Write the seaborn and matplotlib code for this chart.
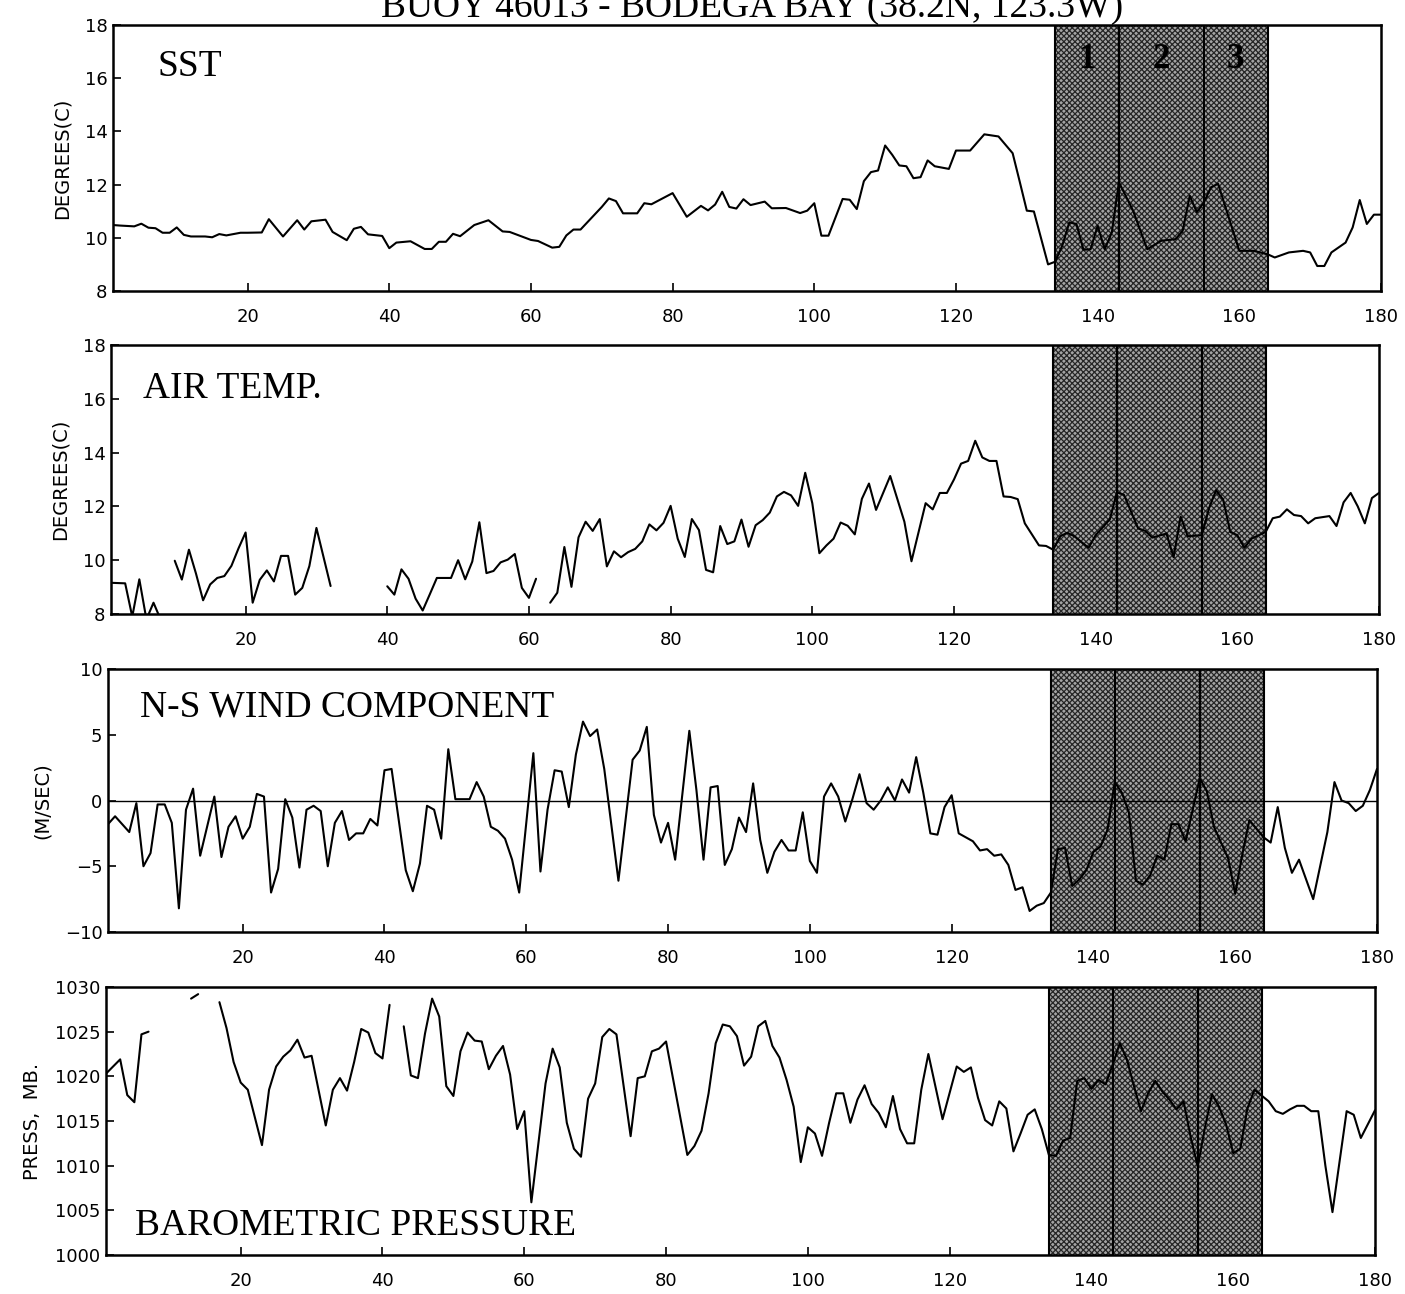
import numpy as np
import pandas as pd
import matplotlib
matplotlib.use("Agg")
import matplotlib.pyplot as plt
import seaborn as sns

sns.set_style("ticks")
plt.rcParams["font.family"] = ["DejaVu Sans"]
plt.rcParams["hatch.linewidth"] = 0.9
for key in ["text.color", "axes.labelcolor", "xtick.color", "ytick.color", "axes.edgecolor"]:
    plt.rcParams[key] = "black"

NAN = np.nan

# Day of record (1-180) and daily values; NaN marks a gap in the record
sst_day = [1, 2, 4, 5, 6, 7, 8, 9, 10, 11, 12, 14, 15, 16, 17, 19, 20, 22, 23, 25,
           27, 28, 29, 31, 32, 34, 35, 36, 37, 39, 40, 41, 43, 45, 46, 47, 48, 49, 50, 52,
           54, 56, 57, 60, 61, 63, 64, 65, 66, 67, 70, 71, 72, 73, 75, 76, 77, 80, 82, 84,
           85, 86, 87, 88, 89, 90, 91, 93, 94, 96, 98, 99, 100, 101, 102, 104, 105, 106, 107, 108,
           109, 110, 111, 112, 113, 114, 115, 116, 117, 119, 120, 122, 124, 126, 128, 129, 130, 131, 133, 134,
           135, 136, 137, 138, 139, 140, 141, 142, 143, 145, 147, 149, 151, 152, 153, 154, 155, 156, 157, 160,
           162, 164, 165, 167, 169, 170, 171, 172, 173, 175, 176, 177, 178, 179, 180]
sst_val = [10.48, 10.46, 10.43, 10.53, 10.38, 10.36, 10.19, 10.19, 10.39, 10.11, 10.05, 10.05, 10.02, 10.14, 10.09, 10.19, 10.19, 10.20, 10.70, 10.05,
           10.66, 10.31, 10.62, 10.68, 10.22, 9.91, 10.34, 10.41, 10.13, 10.07, 9.61, 9.82, 9.87, 9.58, 9.58, 9.85, 9.85, 10.15, 10.06, 10.48,
           10.66, 10.24, 10.22, 9.92, 9.88, 9.63, 9.66, 10.09, 10.31, 10.31, 11.16, 11.48, 11.38, 10.92, 10.92, 11.30, 11.26, 11.68, 10.79, 11.20,
           11.03, 11.25, 11.73, 11.16, 11.10, 11.45, 11.23, 11.36, 11.11, 11.12, 10.93, 11.02, 11.30, 10.08, 10.08, 11.46, 11.43, 11.08, 12.13, 12.47,
           12.53, 13.47, 13.12, 12.72, 12.69, 12.24, 12.28, 12.91, 12.69, 12.59, 13.28, 13.28, 13.89, 13.81, 13.18, 12.11, 11.02, 10.99, 9.00, 9.10,
           9.70, 10.58, 10.52, 9.55, 9.57, 10.45, 9.57, 10.20, 12.09, 11.02, 9.57, 9.89, 9.95, 10.26, 11.58, 10.96, 11.33, 11.90, 12.03, 9.51,
           9.51, 9.38, 9.26, 9.45, 9.51, 9.45, 8.94, 8.94, 9.45, 9.82, 10.39, 11.42, 10.52, 10.87, 10.87]

air_day = [1, 2, 3, 4, 5, 6, 7, 8, 9,
           10, 11, 12, 13, 14, 15, 16, 17, 18, 19, 20, 21, 22, 23, 24, 25, 26, 27, 28, 29, 30, 32, 36,
           40, 41, 42, 43, 44, 45, 46, 47, 49, 50, 51, 52, 53, 54, 55, 56, 57, 58, 59, 60, 61, 62,
           63, 64, 65, 66, 67, 68, 69, 70, 71, 72, 73, 74, 75, 76, 77, 78, 79, 80, 81, 82, 83, 84,
           85, 86, 87, 88, 89, 90, 91, 92, 93, 94, 95, 96, 97, 98, 99, 100, 101, 102, 103, 104,
           105, 106, 107, 108, 109, 111, 113, 114, 116, 117, 118, 119, 120, 121, 122, 123, 124, 125, 126, 127,
           128, 129, 130, 132, 133, 134, 135, 136, 137, 139, 140, 142, 143, 144, 146, 147, 148, 150, 151, 152,
           153, 155, 156, 157, 158, 159, 160, 161, 162, 164, 165, 166, 167, 168, 169, 170, 171, 173, 174, 175,
           176, 177, 178, 179, 180]
air_val = [9.16, 9.15, 9.14, 7.90, 9.29, 7.80, 8.42, 7.80, NAN,
           9.98, 9.28, 10.39, 9.50, 8.51, 9.10, 9.34, 9.41, 9.79, 10.44, 11.03, 8.42, 9.27, 9.62, 9.21, 10.16, 10.16, 8.72, 8.97, 9.78, 11.20, 9.04, NAN,
           9.03, 8.72, 9.66, 9.31, 8.57, 8.13, 8.73, 9.34, 9.34, 10.00, 9.29, 9.95, 11.41, 9.52, 9.60, 9.92, 10.02, 10.23, 8.97, 8.60, 9.31, NAN,
           8.42, 8.79, 10.49, 9.01, 10.85, 11.43, 11.09, 11.53, 9.77, 10.33, 10.11, 10.30, 10.42, 10.70, 11.33, 11.11, 11.39, 12.02, 10.80, 10.12, 11.53, 11.12,
           9.64, 9.55, 11.27, 10.60, 10.70, 11.51, 10.50, 11.30, 11.49, 11.77, 12.37, 12.54, 12.41, 12.02, 13.25, 12.12, 10.26, 10.55, 10.80, 11.40,
           11.28, 10.96, 12.28, 12.85, 11.87, 13.13, 11.43, 9.96, 12.12, 11.89, 12.50, 12.50, 13.00, 13.59, 13.69, 14.44, 13.82, 13.69, 13.69, 12.37,
           12.35, 12.27, 11.37, 10.55, 10.53, 10.39, 10.89, 11.02, 10.89, 10.46, 10.93, 11.52, 12.52, 12.43, 11.18, 11.09, 10.84, 10.99, 10.11, 11.62,
           10.89, 10.93, 11.93, 12.60, 12.25, 11.05, 10.93, 10.46, 10.80, 11.05, 11.56, 11.62, 11.89, 11.68, 11.64, 11.37, 11.56, 11.64, 11.27, 12.15,
           12.50, 12.00, 11.37, 12.31, 12.50]

wind_day = [1, 2, 4, 5, 6, 7, 8, 9, 10, 11, 12, 13, 14, 16, 17, 18, 19, 20, 21, 22,
            23, 24, 25, 26, 27, 28, 29, 30, 31, 32, 33, 34, 35, 36, 37, 38, 39, 40, 41, 43,
            44, 45, 46, 47, 48, 49, 50, 52, 53, 54, 55, 56, 57, 58, 59, 61, 62, 63, 64, 65,
            66, 67, 68, 69, 70, 71, 73, 75, 76, 77, 78, 79, 80, 81, 83, 84, 85, 86, 87, 88,
            89, 90, 91, 92, 93, 94, 95, 96, 97, 98, 99, 100, 101, 102, 103, 104, 105, 106, 107, 108,
            109, 110, 111, 112, 113, 114, 115, 116, 117, 118, 119, 120, 121, 122, 123, 124, 125, 126, 127, 128,
            129, 130, 131, 132, 133, 134, 135, 136, 137, 138, 139, 140, 141, 142, 143, 144, 145, 146, 147, 148,
            149, 150, 151, 152, 153, 154, 155, 156, 157, 159, 160, 161, 162, 164, 165, 166, 167, 168, 169, 171,
            173, 174, 175, 176, 177, 178, 179, 180]
wind_val = [-1.8, -1.2, -2.4, -0.2, -5.0, -4.0, -0.3, -0.3, -1.7, -8.2, -0.7, 0.9, -4.2, 0.3, -4.3, -2.0, -1.2, -2.9, -2.0, 0.5,
            0.3, -7.0, -5.2, 0.1, -1.3, -5.1, -0.7, -0.4, -0.8, -5.0, -1.7, -0.8, -3.0, -2.5, -2.5, -1.4, -1.9, 2.3, 2.4, -5.3,
            -6.9, -4.8, -0.4, -0.7, -2.9, 3.9, 0.1, 0.1, 1.4, 0.3, -2.0, -2.3, -2.9, -4.5, -7.0, 3.6, -5.4, -0.7, 2.3, 2.2,
            -0.5, 3.5, 6.0, 4.9, 5.4, 2.4, -6.1, 3.1, 3.8, 5.6, -1.1, -3.2, -1.7, -4.5, 5.3, 0.8, -4.5, 1.0, 1.1, -4.9,
            -3.7, -1.3, -2.4, 1.3, -3.0, -5.5, -3.9, -3.0, -3.8, -3.8, -0.9, -4.6, -5.5, 0.3, 1.3, 0.3, -1.6, 0.1, 2.0, -0.2,
            -0.7, 0.0, 1.0, 0.0, 1.6, 0.6, 3.3, 0.6, -2.5, -2.6, -0.5, 0.4, -2.5, -2.8, -3.1, -3.8, -3.7, -4.2, -4.1, -4.9,
            -6.8, -6.6, -8.4, -8.0, -7.8, -7.0, -3.7, -3.6, -6.5, -6.0, -5.3, -3.9, -3.5, -2.2, 1.4, 0.6, -0.9, -6.1, -6.4, -5.7,
            -4.2, -4.5, -1.8, -1.8, -3.1, -0.7, 1.7, 0.7, -2.0, -4.4, -7.1, -4.1, -1.5, -2.8, -3.2, -0.5, -3.6, -5.5, -4.5, -7.5,
            -2.4, 1.4, 0.0, -0.2, -0.8, -0.4, 0.8, 2.4]

pres_day = [1, 3, 4, 5, 6, 7, 10, 13, 14, 15,
            17, 18, 19, 20, 21, 23, 24, 25, 26, 27, 28, 29, 30, 32, 33, 34, 35, 36, 37, 38, 39, 40, 41, 42,
            43, 44, 45, 46, 47, 48, 49, 50, 51, 52, 53, 54, 55, 56, 57, 58, 59, 60, 61, 63, 64, 65,
            66, 67, 68, 69, 70, 71, 72, 73, 75, 76, 77, 78, 79, 80, 83, 84, 85, 86, 87, 88, 89, 90,
            91, 92, 93, 94, 95, 96, 97, 98, 99, 100, 101, 102, 103, 104, 105, 106, 107, 108, 109, 110,
            111, 112, 113, 114, 115, 116, 117, 119, 121, 122, 123, 124, 125, 126, 127, 128, 129, 130, 131, 132,
            133, 134, 135, 136, 137, 138, 139, 140, 141, 142, 143, 144, 145, 146, 147, 148, 149, 150, 151, 152,
            153, 154, 155, 156, 157, 158, 159, 160, 161, 162, 163, 165, 166, 167, 168, 169, 170, 171, 172, 173,
            174, 176, 177, 178, 180]
pres_val = [1020.3, 1021.9, 1017.9, 1017.1, 1024.7, 1025.0, NAN, 1028.7, 1029.2, NAN,
            1028.3, 1025.4, 1021.6, 1019.3, 1018.5, 1012.3, 1018.5, 1021.1, 1022.2, 1022.9, 1024.1, 1022.1, 1022.3, 1014.5, 1018.5, 1019.8, 1018.4, 1021.6, 1025.3, 1024.9, 1022.6, 1022.0, 1028.0, NAN,
            1025.6, 1020.1, 1019.8, 1024.8, 1028.7, 1026.7, 1018.9, 1017.8, 1022.8, 1024.9, 1024.0, 1023.9, 1020.8, 1022.3, 1023.4, 1020.2, 1014.1, 1016.1, 1005.9, 1019.2, 1023.1, 1021.0,
            1014.8, 1011.9, 1011.0, 1017.5, 1019.2, 1024.4, 1025.3, 1024.7, 1013.3, 1019.8, 1020.0, 1022.8, 1023.1, 1023.9, 1011.2, 1012.2, 1013.9, 1018.1, 1023.7, 1025.8, 1025.6, 1024.5,
            1021.2, 1022.2, 1025.6, 1026.2, 1023.4, 1022.1, 1019.6, 1016.6, 1010.4, 1014.3, 1013.6, 1011.1, 1014.8, 1018.1, 1018.1, 1014.8, 1017.4, 1019.0, 1016.9, 1015.9,
            1014.3, 1017.8, 1014.1, 1012.5, 1012.5, 1018.5, 1022.5, 1015.2, 1021.1, 1020.5, 1021.0, 1017.6, 1015.1, 1014.5, 1017.2, 1016.4, 1011.6, 1013.6, 1015.7, 1016.3,
            1014.1, 1011.2, 1011.1, 1012.8, 1013.1, 1019.5, 1019.8, 1018.6, 1019.6, 1019.1, 1021.3, 1023.7, 1021.9, 1018.9, 1016.1, 1018.1, 1019.5, 1018.3, 1017.4, 1016.3,
            1017.2, 1013.2, 1009.9, 1014.2, 1018.0, 1016.6, 1014.6, 1011.4, 1011.9, 1016.4, 1018.5, 1017.2, 1016.1, 1015.8, 1016.3, 1016.7, 1016.7, 1016.1, 1016.1, 1010.0,
            1004.8, 1016.1, 1015.7, 1013.1, 1016.2]

# Event periods marked on every panel
event_edges = [134, 143, 155, 164]
event_names = ["1", "2", "3"]

x_ticks = [20, 40, 60, 80, 100, 120, 140, 160, 180]

panels = [
    dict(day=sst_day, val=sst_val, name="SST", ylabel="DEGREES(C)",
         ylim=(8, 18), yticks=[8, 10, 12, 14, 16, 18],
         px=(113, 1381, 25, 291), name_pos=(0.035, 0.808)),
    dict(day=air_day, val=air_val, name="AIR TEMP.", ylabel="DEGREES(C)",
         ylim=(8, 18), yticks=[8, 10, 12, 14, 16, 18],
         px=(111, 1379, 345, 614), name_pos=(0.025, 0.803)),
    dict(day=wind_day, val=wind_val, name="N-S WIND COMPONENT", ylabel="(M/SEC)",
         ylim=(-10, 10), yticks=[-10, -5, 0, 5, 10],
         px=(108, 1377, 669, 932), name_pos=(0.025, 0.821)),
    dict(day=pres_day, val=pres_val, name="BAROMETRIC PRESSURE", ylabel="PRESS,  MB.",
         ylim=(1000, 1030), yticks=[1000, 1005, 1010, 1015, 1020, 1025, 1030],
         px=(106, 1375, 987, 1255), name_pos=(0.023, 0.075)),
]

W, H = 1405, 1294
fig = plt.figure(figsize=(W / 100, H / 100), dpi=100)
fig.patch.set_facecolor("white")

serif = ["Liberation Serif", "DejaVu Serif"]

for i, p in enumerate(panels):
    l, r, t, b = p["px"]
    ax = fig.add_axes([l / W, 1 - b / H, (r - l) / W, (b - t) / H])

    df = pd.DataFrame({"day": p["day"], "val": p["val"]})
    df["seg"] = df["val"].isna().cumsum()
    df = df.dropna()

    # shaded event window with period dividers
    ax.axvspan(event_edges[0], event_edges[-1], facecolor="#a4a4a4",
               edgecolor="#262626", hatch="xxxxxx", linewidth=0, zorder=1)
    for e in event_edges:
        ax.axvline(e, color="black", lw=1.5, zorder=2)

    if p["ylim"][0] < 0 < p["ylim"][1]:
        ax.axhline(0, color="black", lw=1.0, zorder=2)

    sns.lineplot(data=df, x="day", y="val", units="seg", estimator=None,
                 color="black", lw=1.5, ax=ax, legend=False, zorder=3)

    ax.set_xlim(1, 180)
    ax.set_ylim(*p["ylim"])
    ax.set_xticks(x_ticks)
    ax.set_yticks(p["yticks"])
    ax.set_xlabel("")
    ax.set_ylabel(p["ylabel"], fontsize=14, labelpad=9, color="black")
    ax.tick_params(axis="both", direction="in", length=6, width=1.2,
                   labelsize=13, top=False, right=False, colors="black")
    ax.tick_params(axis="x", pad=12)
    ax.tick_params(axis="y", pad=4)
    for s in ax.spines.values():
        s.set_linewidth(1.8)
        s.set_color("black")
        s.set_visible(True)
        s.set_zorder(4)

    ax.text(p["name_pos"][0], p["name_pos"][1], p["name"], transform=ax.transAxes,
            family=serif, fontsize=27, ha="left", va="baseline", color="black", zorder=5)

    if i == 0:
        for k, nm in enumerate(event_names):
            xc = (event_edges[k] + event_edges[k + 1]) / 2
            ax.text(xc, 0.838, nm, transform=ax.get_xaxis_transform(),
                    family=serif, fontsize=25, fontweight="bold", color="black",
                    ha="center", va="baseline", zorder=5)

fig.text(0.535, 1 - 17 / H, "BUOY 46013 - BODEGA BAY (38.2N, 123.3W)",
         family=serif, fontsize=27, ha="center", va="baseline", color="black")

fig.savefig("out.png", dpi=100, facecolor="white")
